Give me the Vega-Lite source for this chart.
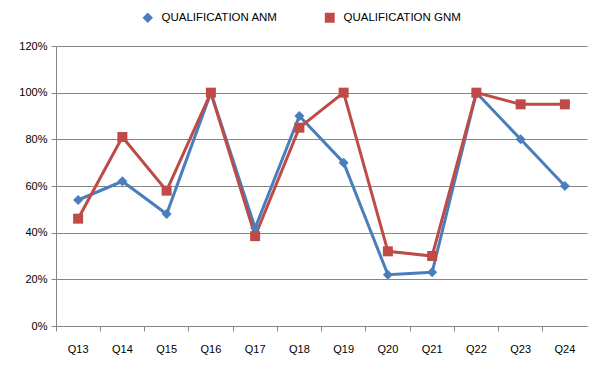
{
  "$schema": "https://vega.github.io/schema/vega-lite/v6.json",
  "width": 531,
  "height": 280,
  "autosize": {"type": "none"},
  "padding": {"left": 56, "top": 46, "right": 16, "bottom": 45},
  "background": "white",
  "config": {
    "view": {"stroke": null},
    "font": "Liberation Sans",
    "axis": {"labelFont": "Liberation Sans", "labelFontSize": 11, "labelColor": "#000000", "domainColor": "#868686", "tickColor": "#868686", "gridColor": "#868686", "gridWidth": 1}
  },
  "data": {
    "values": [
      {"q": "Q13", "s": "QUALIFICATION ANM", "v": 0.54},
      {"q": "Q14", "s": "QUALIFICATION ANM", "v": 0.62},
      {"q": "Q15", "s": "QUALIFICATION ANM", "v": 0.48},
      {"q": "Q16", "s": "QUALIFICATION ANM", "v": 1.0},
      {"q": "Q17", "s": "QUALIFICATION ANM", "v": 0.42},
      {"q": "Q18", "s": "QUALIFICATION ANM", "v": 0.9},
      {"q": "Q19", "s": "QUALIFICATION ANM", "v": 0.7},
      {"q": "Q20", "s": "QUALIFICATION ANM", "v": 0.22},
      {"q": "Q21", "s": "QUALIFICATION ANM", "v": 0.23},
      {"q": "Q22", "s": "QUALIFICATION ANM", "v": 1.0},
      {"q": "Q23", "s": "QUALIFICATION ANM", "v": 0.8},
      {"q": "Q24", "s": "QUALIFICATION ANM", "v": 0.6},
      {"q": "Q13", "s": "QUALIFICATION  GNM", "v": 0.46},
      {"q": "Q14", "s": "QUALIFICATION  GNM", "v": 0.81},
      {"q": "Q15", "s": "QUALIFICATION  GNM", "v": 0.58},
      {"q": "Q16", "s": "QUALIFICATION  GNM", "v": 1.0},
      {"q": "Q17", "s": "QUALIFICATION  GNM", "v": 0.385},
      {"q": "Q18", "s": "QUALIFICATION  GNM", "v": 0.85},
      {"q": "Q19", "s": "QUALIFICATION  GNM", "v": 1.0},
      {"q": "Q20", "s": "QUALIFICATION  GNM", "v": 0.32},
      {"q": "Q21", "s": "QUALIFICATION  GNM", "v": 0.3},
      {"q": "Q22", "s": "QUALIFICATION  GNM", "v": 1.0},
      {"q": "Q23", "s": "QUALIFICATION  GNM", "v": 0.95},
      {"q": "Q24", "s": "QUALIFICATION  GNM", "v": 0.95}
    ]
  },
  "encoding": {
    "x": {"field": "q", "type": "ordinal", "title": null,
      "scale": {"type": "band", "paddingInner": 0, "paddingOuter": 0},
      "axis": {"labelAngle": 0, "bandPosition": 0, "tickSize": 5, "labelPadding": 12, "grid": false, "domainWidth": 1}},
    "y": {"field": "v", "type": "quantitative", "title": null,
      "scale": {"domain": [0, 1.2], "nice": false},
      "axis": {"format": ".0%", "values": [0, 0.2, 0.4, 0.6, 0.8, 1.0, 1.2], "tickSize": 5, "labelPadding": 4}},
    "color": {"field": "s", "type": "nominal", "title": null,
      "scale": {"domain": ["QUALIFICATION ANM", "QUALIFICATION  GNM"], "range": ["#4A7EBB", "#BE4B48"]},
      "legend": {"orient": "none", "legendX": 86, "legendY": -34, "direction": "horizontal", "labelFontSize": 11.5, "labelColor": "#000000", "columnPadding": 44, "symbolSize": 70, "labelOffset": 8, "labelFont": "Liberation Sans"}},
    "shape": {"field": "s", "type": "nominal",
      "scale": {"domain": ["QUALIFICATION ANM", "QUALIFICATION  GNM"], "range": ["diamond", "square"]},
      "legend": null}
  },
  "layer": [
    {"mark": {"type": "line", "strokeWidth": 3}},
    {"mark": {"type": "point", "filled": true, "opacity": 1, "size": 100}}
  ]
}
